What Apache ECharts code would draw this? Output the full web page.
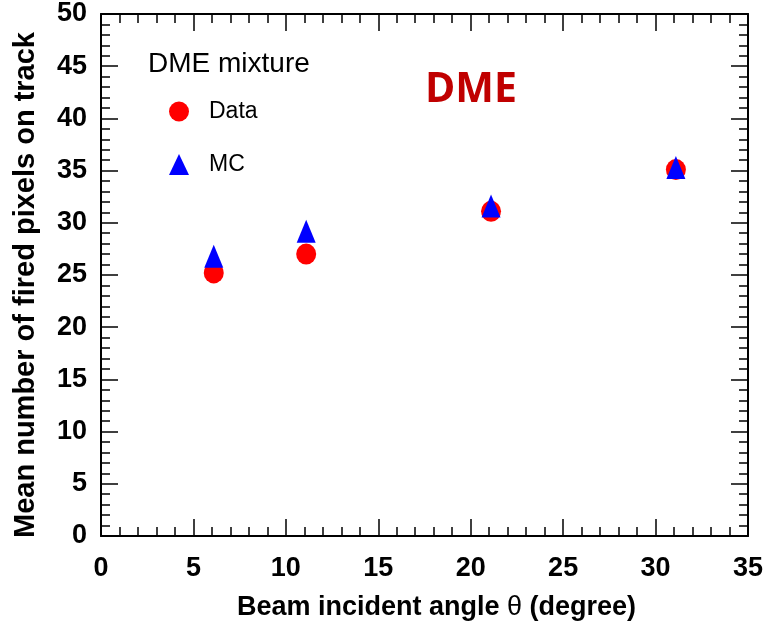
<!DOCTYPE html>
<html>
<head>
<meta charset="utf-8">
<script src="https://cdn.jsdelivr.net/npm/echarts@6/dist/echarts.min.js"></script>
<style>
html,body{margin:0;padding:0;background:#fff;}
#c{width:766px;height:628px;}
</style>
</head>
<body>
<div id="c"></div>
<script>
const angles = [6.1, 11.1, 21.1, 31.1];
const dataValues = [25.2, 27.0, 31.1, 35.1];
const mcValues = [26.8, 29.2, 31.6, 35.3];
const xTicks = [0, 5, 10, 15, 20, 25, 30, 35];
const yTicks = [0, 5, 10, 15, 20, 25, 30, 35, 40, 45, 50];

const FONT = '"Liberation Sans", Arial, Helvetica, sans-serif';
const chart = echarts.init(document.getElementById('c'), null, {renderer: 'canvas'});

function axisCommon(showLabels) {
  return {
    axisLine: {show: true, onZero: false, lineStyle: {color: '#000', width: 2}},
    axisTick: {show: true, inside: true, length: 17, lineStyle: {color: '#000', width: 1.5}},
    minorTick: {show: true, splitNumber: 5, length: 9, lineStyle: {color: '#000', width: 1.5}},
    splitLine: {show: false},
    axisLabel: {show: showLabels, color: '#000', fontFamily: FONT, fontWeight: 'bold', fontSize: 27}
  };
}

const option = {
  backgroundColor: '#fff',
  animation: false,
  grid: {left: 101, right: 16, top: 14, bottom: 92, containLabel: false},
  title: {
    text: 'DME mixture',
    left: 148, top: 50, padding: 0,
    textStyle: {fontFamily: FONT, fontWeight: 'normal', fontSize: 28, color: '#000'}
  },
  legend: {
    orient: 'vertical',
    left: 169, top: 100,
    itemWidth: 20, itemHeight: 21,
    itemGap: 30,
    padding: 0,
    data: [{name: 'Data', icon: 'circle'}, {name: 'MC', icon: 'triangle'}],
    textStyle: {fontFamily: FONT, fontSize: 23, color: '#000', padding: [6, 0, 0, 15]}
  },
  graphic: [{
    type: 'text', left: 425, top: 70,
    style: {text: 'DME', fill: '#C00000', font: 'bold 41px "Open Sans", Lato, sans-serif'}
  }],
  xAxis: [
    Object.assign(axisCommon(true), {
      type: 'value', min: xTicks[0], max: xTicks[xTicks.length - 1], interval: 5,
      position: 'bottom',
      name: 'Beam incident angle {t|θ} (degree)',
      nameLocation: 'middle', nameGap: 58,
      nameTextStyle: {fontFamily: FONT, fontWeight: 'bold', fontSize: 27, color: '#000',
        padding: [0, 0, 0, 24],
        rich: {t: {fontFamily: FONT, fontWeight: 'normal', fontSize: 27, color: '#000'}}}
    }),
    Object.assign(axisCommon(false), {
      type: 'value', min: xTicks[0], max: xTicks[xTicks.length - 1], interval: 5, position: 'top'
    })
  ],
  yAxis: [
    Object.assign(axisCommon(true), {
      type: 'value', min: yTicks[0], max: yTicks[yTicks.length - 1], interval: 5,
      position: 'left',
      name: 'Mean number of fired pixels on track',
      nameLocation: 'middle', nameGap: 61,
      nameTextStyle: {fontFamily: FONT, fontWeight: 'bold', fontSize: 29, color: '#000',
        padding: [0, 20, 0, 0]}
    }),
    Object.assign(axisCommon(false), {
      type: 'value', min: yTicks[0], max: yTicks[yTicks.length - 1], interval: 5, position: 'right'
    })
  ],
  series: [
    {
      name: 'Data', type: 'scatter', symbol: 'circle', symbolSize: [20, 21],
      itemStyle: {color: '#FF0000', opacity: 1},
      data: angles.map((a, i) => [a, dataValues[i]]), z: 2
    },
    {
      name: 'MC', type: 'scatter', symbol: 'triangle', symbolSize: [19, 23],
      itemStyle: {color: '#0000FF', opacity: 1},
      data: angles.map((a, i) => [a, mcValues[i]]), z: 3
    }
  ]
};
option.yAxis[0].axisLabel.margin = 14;
option.xAxis[0].axisLabel.margin = 19;
chart.setOption(option);
</script>
</body>
</html>
